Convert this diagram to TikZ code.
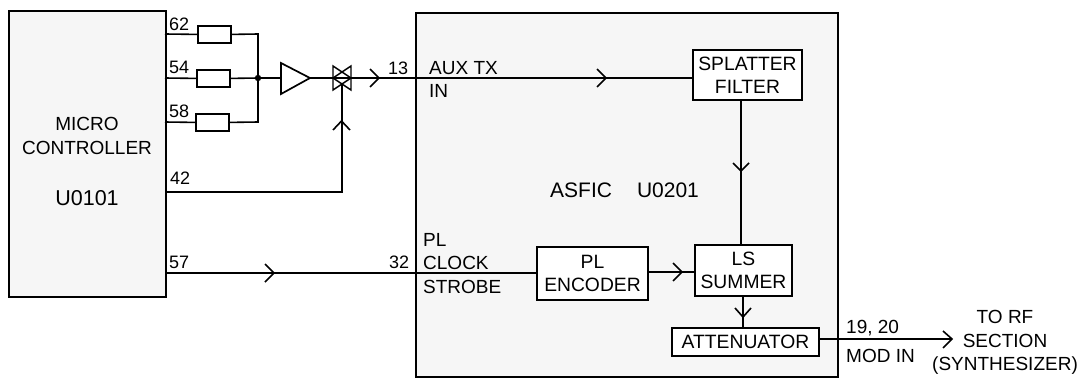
\documentclass[tikz,border=0pt]{standalone}
\usepackage{fontspec}
\setmainfont{Liberation Sans}
\definecolor{panel}{HTML}{F6F6F6}
\begin{document}
\begin{tikzpicture}[x=1pt,y=-1pt,
  wire/.style={line width=1.6pt,line cap=butt,line join=miter},
  bigbox/.style={draw,line width=2pt,fill=panel,inner sep=0pt,anchor=north west},
  blockbox/.style={draw,line width=2pt,fill=white,inner sep=0pt,anchor=north west,align=center,font=\fontsize{19.3}{23}\selectfont},
  resbox/.style={draw,line width=1.8pt,fill=white,inner sep=0pt,anchor=north west,minimum width=33pt,minimum height=17pt},
  lab/.style={inner sep=0pt,anchor=base west,font=\fontsize{19}{22}\selectfont},
  numlab/.style={inner sep=0pt,anchor=base west,font=\fontsize{18}{22}\selectfont},
  chev/.style={line width=1.6pt,line join=miter}]
\useasboundingbox (0,0) rectangle (1083,378);
\node[bigbox,minimum width=157pt,minimum height=286pt] (mc) at (8,10) {};
\node[bigbox,minimum width=422pt,minimum height=364pt] (asfic) at (415,12) {};
\node[inner sep=0pt,align=center,font=\fontsize{19}{24}\selectfont] (mctext) at (87,136) {MICRO\\CONTROLLER};
\node[inner sep=0pt,font=\fontsize{21.5}{24}\selectfont] (u101) at (87,198) {U0101};
\node[lab,font=\fontsize{21}{24}\selectfont] (asf) at (550,197) {ASFIC\hspace{25pt}U0201};
\node[blockbox,minimum width=109pt,minimum height=50pt] (spl) at (692,49) {SPLATTER\\FILTER};
\node[blockbox,minimum width=111pt,minimum height=53pt] (enc) at (536,246) {PL\\ENCODER};
\node[blockbox,minimum width=97pt,minimum height=51pt] (sum) at (694,244) {LS\\SUMMER};
\node[blockbox,minimum width=147pt,minimum height=28pt] (att) at (671,327) {ATTENUATOR};
\node[resbox] (r62) at (197,25) {};
\node[resbox] (r54) at (196,69) {};
\node[resbox] (r58) at (195,113) {};
\coordinate (j) at (258,78);
\coordinate (p62) at (165,34);
\coordinate (p54) at (165,78);
\coordinate (p58) at (165,122);
\coordinate (p42) at (165,192);
\coordinate (p57) at (165,273);
\coordinate (tg) at (342,78);
\coordinate (ctrl) at (342,192);
\coordinate (p13) at (415,78);
\coordinate (p32) at (415,273);
\coordinate (outend) at (952,339);
% wires
\draw[wire] (p62) -- (r62.west) (r62.east) -- (258,34) -- (258,122) -- (r58.east) (r58.west) -- (p58);
\draw[wire] (p54) -- (r54.west) (r54.east) -- (j) -- (281,78);
\fill (j) circle (3.2pt);
\draw[wire] (310,78) -- (tg) -- (p13);
\draw[wire] (p42) -- (ctrl) -- (342,84);
\draw[wire] (p13) -- (spl.west |- p13);
\draw[wire] (p57) -- (p32) -- (enc.west |- p32);
\draw[wire] (enc.east |- 0,272) -- (sum.west |- 0,272);
\draw[wire] (spl.south -| 741,0) -- (sum.north -| 741,0);
\draw[wire] (sum.south -| 743,0) -- (att.north -| 743,0);
\draw[wire] (att.east |- outend) -- (outend);
% buffer and gate
\draw[line width=1.7pt,line join=miter] (281,63) -- (310,78) -- (281,94) -- cycle;
\draw[line width=1.4pt,line join=miter] (333,66) -- (351,78) -- (333,90) -- cycle;
\draw[line width=1.4pt,line join=miter] (351,66) -- (333,78) -- (351,90) -- cycle;
% chevrons
\draw[chev] (370,69) -- (379,78) -- (370,87);
\draw[chev] (333,130) -- (341.5,121) -- (350,130);
\draw[chev] (597,69) -- (606,78) -- (597,87);
\draw[chev] (265,264) -- (274,273) -- (265,282);
\draw[chev] (733,163) -- (741,171) -- (749,163);
\draw[chev] (673,263) -- (682,272) -- (673,281);
\draw[chev] (735,308) -- (743,317) -- (751,308);
\draw[chev] (943,331) -- (952,339) -- (943,348);
% labels
\node[numlab] (l62) at (169,30) {62};
\node[numlab] (l54) at (169,73) {54};
\node[numlab] (l58) at (169,117) {58};
\node[numlab] (l42) at (170,184) {42};
\node[numlab] (l57) at (169,268) {57};
\node[numlab] (l13) at (388,74) {13};
\node[numlab] (l32) at (389,268) {32};
\node[lab] (laux) at (429,74) {AUX TX};
\node[lab] (lin) at (429,97) {IN};
\node[lab] (lpl) at (423,246) {PL};
\node[lab] (lclk) at (423,269) {CLOCK};
\node[lab] (lstr) at (423,293) {STROBE};
\node[lab] (l19) at (846,333) {19, 20};
\node[lab] (lmod) at (846,362) {MOD IN};
\node[lab,anchor=base] (lto) at (1005,323) {TO RF};
\node[lab,anchor=base] (lsec) at (1005,347) {SECTION};
\node[lab,anchor=base] (lsyn) at (1005,370) {(SYNTHESIZER)};
\end{tikzpicture}
\end{document}
